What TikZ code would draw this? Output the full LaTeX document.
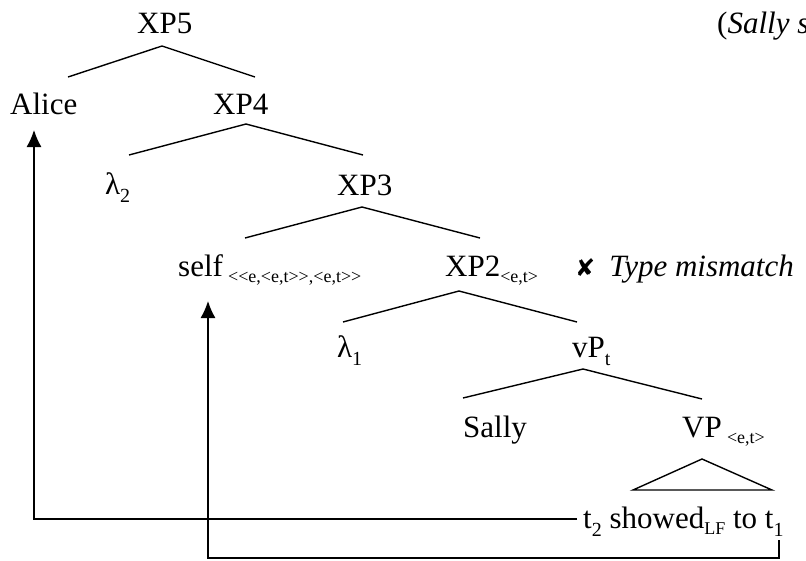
\documentclass[tikz,border=0pt]{standalone}
\usepackage{fontspec}
\setmainfont{Liberation Serif}
\newfontfamily\symfont{DejaVu Sans}
\usetikzlibrary{arrows.meta}
% small lowered index text
\newcommand\idx[1]{\raisebox{-0.2em}{\fontsize{18}{18}\selectfont #1}}
\newcommand\tidx[1]{\raisebox{-0.28em}{\fontsize{20}{20}\selectfont #1}}
\begin{document}
\begin{tikzpicture}[x=1pt,y=-1pt,
  lbl/.style={anchor=base west,inner sep=0pt,font=\fontsize{31}{37}\selectfont},
  branch/.style={line width=1.4pt},
  mover/.style={line width=1.3pt,-{Latex[width=15pt,length=17pt]}}]
\useasboundingbox (0,0) rectangle (806,560);
\clip (0,0) rectangle (806,560);

% labels
\node[lbl] (xp5) at (137,33) {XP5};
\node[lbl] (alice) at (10,114) {Alice};
\node[lbl] (xp4) at (213,114) {XP4};
\node[lbl] (lam2) at (105,194) {λ\tidx{2}};
\node[lbl] (xp3) at (337,195) {XP3};
\node[lbl] (self) at (178,276) {self\,\idx{<{}<e,<e,t>{}>,<e,t>{}>}};
\node[lbl] (xp2) at (445,276) {XP2\idx{<e,t>}};
\node[lbl] (mis) at (575,276) {{\symfont\fontsize{24}{24}\selectfont ✘}\hspace{14pt}\textit{Type mismatch}};
\node[lbl] (lam1) at (337,357) {λ\tidx{1}};
\node[lbl] (vp) at (572,357) {vP\tidx{t}};
\node[lbl] (sally) at (463,437) {Sally};
\node[lbl] (VP) at (682,437) {VP\,\idx{<e,t>}};
\node[lbl] (lf) at (583,528) {t\tidx{2} showed\idx{LF} to t\tidx{1}};
\node[lbl] (gloss) at (717,33) {(\textit{Sally s}};

% branch points
\coordinate (a5) at (162,46);  \coordinate (a5l) at (68,77);   \coordinate (a5r) at (255,77);
\coordinate (a4) at (246,124); \coordinate (a4l) at (129,155); \coordinate (a4r) at (363,155);
\coordinate (a3) at (362,207); \coordinate (a3l) at (245,238); \coordinate (a3r) at (480,238);
\coordinate (a2) at (459,291); \coordinate (a2l) at (343,322); \coordinate (a2r) at (577,322);
\coordinate (a1) at (583,369); \coordinate (a1l) at (463,398); \coordinate (a1r) at (702,399);
\coordinate (tt) at (702,459); \coordinate (ttl) at (633,490); \coordinate (ttr) at (772,490);

\draw[branch] (a5l) -- (a5) -- (a5r);
\draw[branch] (a4l) -- (a4) -- (a4r);
\draw[branch] (a3l) -- (a3) -- (a3r);
\draw[branch] (a2l) -- (a2) -- (a2r);
\draw[branch] (a1l) -- (a1) -- (a1r);
\draw[branch] (ttl) -- (tt) -- (ttr) -- cycle;

% movement paths
\coordinate (m1s) at (577,519);
\coordinate (m1e) at (34,130);
\draw[mover] (m1s) -- (34,519) -- (m1e);
\coordinate (m2s) at (779,540);
\coordinate (m2e) at (208,301);
\draw[mover] (m2s) -- (779,558) -- (208,558) -- (m2e);
\end{tikzpicture}
\end{document}
